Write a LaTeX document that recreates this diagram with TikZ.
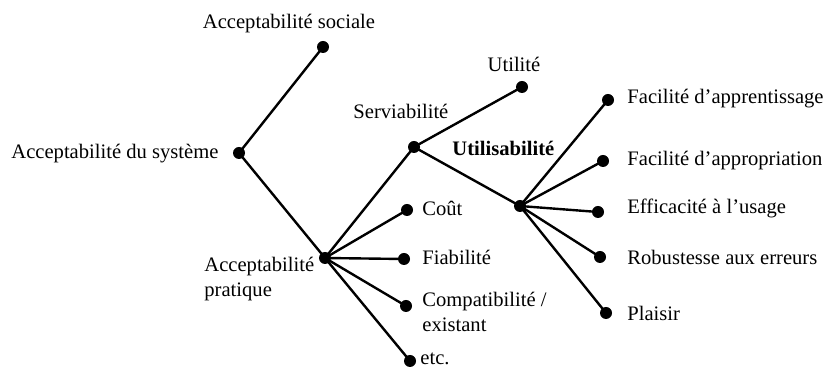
\documentclass[tikz,border=0pt]{standalone}
\usepackage{fontspec}
\setmainfont{Liberation Serif}
\begin{document}
\begin{tikzpicture}[x=0.5pt,y=-0.5pt,
  dot/.style={circle,fill=black,inner sep=0pt,minimum size=6pt},
  lbl/.style={inner sep=0pt,font=\fontsize{10.3}{12.5}\selectfont},
  link/.style={line width=1.2pt}]
\useasboundingbox (0,0) rectangle (825,367);
% dots
\node[dot] (sys) at (239,153) {};
\node[dot] (soc) at (323,47) {};
\node[dot] (pra) at (325,258) {};
\node[dot] (ser) at (414,147) {};
\node[dot] (uti) at (522,87) {};
\node[dot] (cou) at (407,210) {};
\node[dot] (fia) at (404,259) {};
\node[dot] (com) at (406,306) {};
\node[dot] (etc) at (410,361) {};
\node[dot] (usa) at (520,206) {};
\node[dot] (fap) at (608,100) {};
\node[dot] (fao) at (603,161) {};
\node[dot] (eff) at (598,212) {};
\node[dot] (rob) at (600,257) {};
\node[dot] (pla) at (606,313) {};
% connectors
\draw[link] (sys.center) -- (soc.center);
\draw[link] (sys.center) -- (pra.center);
\draw[link] (pra.center) -- (ser.center);
\draw[link] (pra.center) -- (cou.center);
\draw[link] (pra.center) -- (fia.center);
\draw[link] (pra.center) -- (com.center);
\draw[link] (pra.center) -- (etc.center);
\draw[link] (ser.center) -- (uti.center);
\draw[link] (ser.center) -- (usa.center);
\draw[link] (usa.center) -- (fap.center);
\draw[link] (usa.center) -- (fao.center);
\draw[link] (usa.center) -- (eff.center);
\draw[link] (usa.center) -- (rob.center);
\draw[link] (usa.center) -- (pla.center);
% labels
\node[lbl,anchor=base] (tsoc) at (289,29) {Acceptabilité sociale};
\node[lbl,anchor=base west] (tsys) at (11,159) {Acceptabilité du système};
\node[lbl,anchor=base west] (tpra) at (204,272) {Acceptabilité};
\node[lbl,anchor=base west] (tpra2) at (204,297) {pratique};
\node[lbl,anchor=base west] (tser) at (353,119) {Serviabilité};
\node[lbl,anchor=base] (tuti) at (514,72) {Utilité};
\node[lbl,anchor=base west,font=\fontsize{10.3}{12.5}\selectfont\bfseries] (tusa) at (452,156) {Utilisabilité};
\node[lbl,anchor=base west] (tcou) at (422,216) {Coût};
\node[lbl,anchor=base west] (tfia) at (422,265) {Fiabilité};
\node[lbl,anchor=base west] (tcom) at (422,307) {Compatibilité /};
\node[lbl,anchor=base west] (tcom2) at (422,332) {existant};
\node[lbl,anchor=base west] (tetc) at (420,365) {etc.};
\node[lbl,anchor=base west] (tfap) at (627,104) {Facilité d’apprentissage};
\node[lbl,anchor=base west] (tfao) at (627,166) {Facilité d’appropriation};
\node[lbl,anchor=base west] (teff) at (627,214) {Efficacité à l’usage};
\node[lbl,anchor=base west] (trob) at (627,265) {Robustesse aux erreurs};
\node[lbl,anchor=base west] (tpla) at (627,321) {Plaisir};
\end{tikzpicture}
\end{document}
